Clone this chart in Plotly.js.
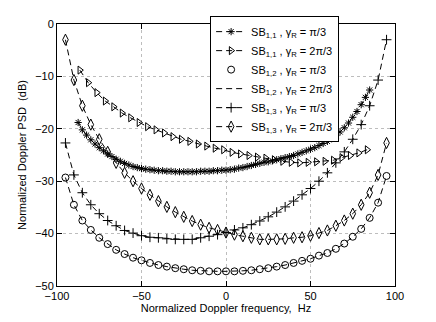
<!DOCTYPE html>
<html>
<head>
<meta charset="utf-8">
<script src="https://cdn.plot.ly/plotly-3.0.1.min.js"></script>
<style>
  body { margin: 0; background: #fff; }
  #graph { width: 436px; height: 322px; }
</style>
</head>
<body>
<div id="graph"></div>
<script>
// SB_{1,1}, gamma_R = pi/3 (asterisks, dense)
const sb11aX = [-87.5, -85, -82.5, -80, -77.5, -75, -72.5, -70, -67.5, -65, -62.5, -60, -57.5, -55, -52.5, -50,
  -47.5, -45, -42.5, -40, -37.5, -35, -32.5, -30, -27.5, -25, -22.5, -20, -17.5, -15, -12.5, -10, -7.5, -5, -2.5,
  0, 2.5, 5, 7.5, 10, 12.5, 15, 17.5, 20, 22.5, 25, 27.5, 30, 32.5, 35, 37.5, 40, 42.5, 45, 47.5, 50, 52.5, 55,
  57.5, 60, 62.5, 65, 67.5, 70, 72.5, 75, 77.5, 80, 82.5, 85];
const sb11aY = [-18.8, -20.2, -21.2, -22.1, -22.9, -23.6, -24.2, -24.8, -25.3, -25.8, -26.2, -26.6, -26.9, -27.2, -27.4, -27.6,
  -27.7, -27.8, -27.9, -28.0, -28.0, -28.1, -28.1, -28.2, -28.2, -28.2, -28.2, -28.2, -28.2, -28.1, -28.1, -28.1, -28.0, -28.0, -27.9,
  -27.9, -27.8, -27.7, -27.5, -27.4, -27.2, -27.0, -26.8, -26.6, -26.4, -26.3, -26.1, -25.9, -25.7, -25.5, -25.3, -25.1, -24.8, -24.5, -24.2, -23.9, -23.6, -23.2,
  -22.8, -22.4, -21.9, -21.3, -20.6, -19.8, -18.9, -17.8, -16.7, -15.4, -14.0, -12.6];

// SB_{1,1}, gamma_R = 2pi/3 (triangles)
const sb11bX = [-86.5, -81.5, -76.5, -71.5, -66.5, -61.5, -56.5, -51.5, -46.5, -41.5, -36.5, -31.5, -26.5, -21.5, -16.5,
  -11.5, -6.5, -1.5, 3.5, 8.5, 13.5, 18.5, 23.5, 28.5, 33.5, 38.5, 43.5, 48.5, 53.5, 58.5, 63.5, 68.5, 73.5, 78.5, 83.5];
const sb11bY = [-8.8, -11.2, -13.1, -14.7, -15.8, -17.0, -17.9, -18.8, -19.6, -20.2, -20.8, -21.5, -22.0, -22.4, -22.9,
  -23.3, -23.7, -24.0, -24.5, -24.8, -25.1, -25.4, -25.6, -25.9, -26.2, -26.4, -26.5, -26.4, -26.3, -26.2, -26.0, -25.5, -25.1, -24.6, -24.0];

// common grid for the SB_{1,2} and SB_{1,3} curves
const fX = [-95, -90, -85, -80, -75, -70, -65, -60, -55, -50, -45, -40, -35, -30, -25, -20, -15, -10, -5,
  0, 5, 10, 15, 20, 25, 30, 35, 40, 45, 50, 55, 60, 65, 70, 75, 80, 85, 90, 95];

// SB_{1,2}, gamma_R = pi/3 (circles) and 2pi/3 (dashed, on top of it)
const sb12aY = [-29.3, -34.5, -37.5, -39.3, -40.8, -42.0, -43.1, -43.9, -44.6, -45.1, -45.6, -46.0, -46.3, -46.6, -46.8, -47.0, -47.1, -47.2, -47.2,
  -47.2, -47.2, -47.1, -47.0, -46.8, -46.6, -46.3, -46.0, -45.6, -45.2, -44.8, -44.2, -43.7, -42.9, -41.9, -40.6, -39.1, -37.0, -34.1, -29.0];
const sb12bY = [-29.3, -34.5, -37.5, -39.3, -40.8, -42.0, -43.1, -43.9, -44.6, -45.1, -45.6, -46.0, -46.3, -46.6, -46.8, -47.0, -47.1, -47.2, -47.2,
  -47.2, -47.2, -47.1, -47.0, -46.8, -46.6, -46.3, -46.0, -45.6, -45.2, -44.8, -44.2, -43.7, -42.9, -41.9, -40.6, -39.1, -37.0, -34.1, -29.0];

// SB_{1,3}, gamma_R = pi/3 (plus) and 2pi/3 (diamonds)
const sb13aY = [-22.7, -28.8, -32.2, -34.5, -36.2, -37.5, -38.5, -39.4, -39.9, -40.4, -40.7, -40.8, -41.0, -41.1, -41.1, -41.1, -40.8, -40.5, -40.2,
  -39.8, -39.3, -38.9, -38.3, -37.6, -36.8, -35.9, -34.9, -33.8, -32.6, -31.4, -30.0, -28.4, -26.5, -24.4, -22.0, -19.2, -15.6, -10.7, -3.0];
const sb13bY = [-3.0, -10.7, -15.6, -19.2, -22.0, -24.4, -26.5, -28.4, -30.0, -31.4, -32.6, -33.8, -34.9, -35.9, -36.8, -37.6, -38.3, -38.9, -39.3,
  -39.8, -40.2, -40.5, -40.8, -41.1, -41.1, -41.1, -41.0, -40.8, -40.7, -40.4, -39.9, -39.4, -38.5, -37.5, -36.2, -34.5, -32.2, -28.8, -22.7];

const legendNames = [
  'SB<sub>1,1</sub> , γ<sub>R</sub> = π/3',
  'SB<sub>1,1</sub> , γ<sub>R</sub> = 2π/3',
  'SB<sub>1,2</sub> , γ<sub>R</sub> = π/3',
  'SB<sub>1,2</sub> , γ<sub>R</sub> = 2π/3',
  'SB<sub>1,3</sub> , γ<sub>R</sub> = π/3',
  'SB<sub>1,3</sub> , γ<sub>R</sub> = 2π/3'
];

const dashLine = { color: 'black', width: 1, dash: '6px,4px' };

function mk(sym, size) {
  return { symbol: sym, size: size, color: 'black', line: { color: 'black', width: 1 } };
}

var data = [
  { x: sb11aX, y: sb11aY, mode: 'lines+markers', type: 'scatter', name: legendNames[0], legendgroup: 'g1',
    line: dashLine, marker: mk('asterisk-open', 6) },
  { x: sb11bX, y: sb11bY, mode: 'lines+markers', type: 'scatter', name: legendNames[1], legendgroup: 'g2',
    line: dashLine, marker: mk('triangle-right-open', 7) },
  { x: fX, y: sb12aY, mode: 'markers', type: 'scatter', name: legendNames[2], legendgroup: 'g3',
    marker: mk('circle-open', 7) },
  { x: fX, y: sb12bY, mode: 'lines', type: 'scatter', name: legendNames[3], legendgroup: 'g4',
    line: dashLine },
  { x: fX, y: sb13aY, mode: 'lines+markers', type: 'scatter', name: legendNames[4], legendgroup: 'g5',
    line: dashLine, marker: mk('cross-thin-open', 7) },
  { x: fX, y: sb13bY, mode: 'lines+markers', type: 'scatter', name: legendNames[5], legendgroup: 'g6',
    line: dashLine, marker: mk('diamond-tall-open', 8) }
];

var axisCommon = {
  showgrid: true,
  gridcolor: '#bdbdbd',
  griddash: 'dot',
  gridwidth: 1,
  zeroline: false,
  showline: true,
  mirror: 'ticks',
  linecolor: 'black',
  linewidth: 1,
  ticks: 'inside',
  ticklen: 5,
  tickcolor: 'black',
  tickfont: { size: 11, color: 'black' }
};

var layout = {
  width: 436,
  height: 322,
  margin: { l: 57, r: 41, t: 24, b: 36 },
  paper_bgcolor: 'white',
  plot_bgcolor: 'white',
  font: { family: 'Liberation Sans, Arial, sans-serif', size: 11, color: 'black' },
  showlegend: true,
  legend: {
    x: 0.453, y: 1.03, xanchor: 'left', yanchor: 'top',
    bgcolor: 'white', bordercolor: 'black', borderwidth: 1,
    font: { family: 'Liberation Sans Narrow, Liberation Sans, Arial, sans-serif', size: 11 },
    itemwidth: 30,
    tracegroupgap: 0
  },
  xaxis: Object.assign({}, axisCommon, {
    range: [-100, 100],
    tickvals: [-100, -50, 0, 50, 100],
    title: { text: 'Normalized Doppler frequency,  Hz', font: { size: 11 }, standoff: 3 }
  }),
  yaxis: Object.assign({}, axisCommon, {
    range: [-50, 0],
    tickvals: [-50, -40, -30, -20, -10, 0],
    title: { text: 'Normalized Doppler PSD  (dB)', font: { size: 11 }, standoff: 6 }
  })
};

Plotly.newPlot('graph', data, layout, { displayModeBar: false, staticPlot: true });
</script>
</body>
</html>
